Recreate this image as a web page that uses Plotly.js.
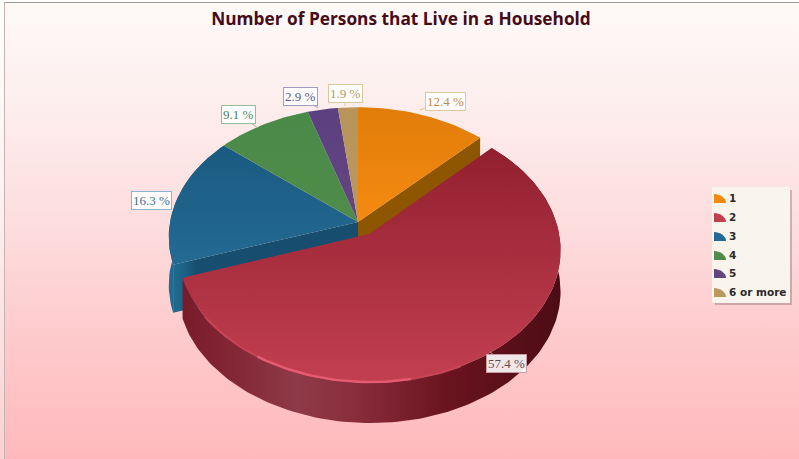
<!DOCTYPE html>
<html><head><meta charset="utf-8">
<script src="https://cdn.plot.ly/plotly-3.0.1.min.js"></script>
<style>html,body{margin:0;padding:0;height:459px;background:linear-gradient(#ffffff 0%,#fff2f2 40%,#fdd0d2 100%)}
#c{position:absolute;left:4px;top:2px;width:795px;height:457px;box-sizing:border-box;border-top:1px solid #9c9894;border-left:1px solid #c4b4b2;
background:linear-gradient(#fefaf8 0%,#fdeeee 22%,#fddcdd 50%,#fec9cb 75%,#ffb9bd 100%)}</style>
</head><body><div id="c"></div>
<script>
const categories=['1','2','3','4','5','6 or more'];
const percents=[12.4,57.4,16.3,9.1,2.9,1.9];
const labels=['12.4 %','57.4 %','16.3 %','9.1 %','2.9 %','1.9 %'];
const topColors=[['#e27d0a','#f48a10'],['#92202f','#c23f50'],['#1a5a80','#246a92'],['#4a8a48','#4f8c4a'],['#5c3f80','#64467f'],['#b8945a','#bc9860']];
const cutColors=['#8e5600','#5e1520','#174d6e','#2f5a2f','#3d2a58','#7a6038'];
const textColors=['#c08a48','#6a4a4e','#3f7292','#4f8450','#5f5590','#ad9a68'];
const borderColors=['#e2c79a','#c89aa2','#8cb4cc','#98bc98','#a09ac4','#d8c89c'];
const explode=[0,0.11,0,0,0,0];

// view of the tilted disc
const OX=5,OY=3;
const V={x:358,y:222,A:188,B:128,p:0.115,depth:41,backDepth:48};
function proj(u,w,drop){
  const d=1+V.p*w;
  return [V.x+V.A*u/d-OX, V.y-V.B*w/d+(drop||0)-OY];
}
const total=percents.reduce((a,b)=>a+b,0);
let acc=0;
const slices=percents.map((p,i)=>{
  const a0=acc/total*2*Math.PI; acc+=p; const a1=acc/total*2*Math.PI;
  const m=(a0+a1)/2;
  return {i,a0,a1,m,ou:explode[i]*Math.sin(m),ow:explode[i]*Math.cos(m)};
});
function rimPts(s,a0,a1,drop){
  const n=Math.max(4,Math.ceil((a1-a0)*40)),pts=[];
  for(let k=0;k<=n;k++){const a=a0+(a1-a0)*k/n;pts.push(proj(s.ou+Math.sin(a),s.ow+Math.cos(a),drop));}
  return pts;
}
function poly(pts,fill,name,extra){
  const xs=pts.map(q=>q[0]),ys=pts.map(q=>q[1]);
  xs.push(xs[0]);ys.push(ys[0]);
  return Object.assign({type:'scatter',mode:'lines',x:xs,y:ys,fill:'toself',fillcolor:fill,
    line:{width:0,color:fill},hoverinfo:'skip',showlegend:false,name:name||''},extra||{});
}
function topFace(s){
  const c=proj(s.ou,s.ow,0);
  const c1=topColors[s.i];
  return poly([c].concat(rimPts(s,s.a0,s.a1,0)),c1[1],categories[s.i],{
    fillgradient:{type:'vertical',colorscale:[[0,c1[1]],[1,c1[0]]]}});
}
function cut(s,a,depth,scale){
  const c=proj(s.ou,s.ow,0),c2=proj(s.ou,s.ow,depth);
  const e=proj(s.ou+Math.sin(a),s.ow+Math.cos(a),0),e2=proj(s.ou+Math.sin(a),s.ow+Math.cos(a),depth);
  const o=poly([c,e,e2,c2],cutColors[s.i]);
  if(scale)o.fillgradient={type:'horizontal',colorscale:scale};
  return o;
}
function side(s,a0,a1,depth,scale){
  const up=rimPts(s,a0,a1,0),dn=rimPts(s,a0,a1,depth).reverse();
  const o=poly(up.concat(dn),cutColors[s.i]);
  if(scale)o.fillgradient={type:'horizontal',colorscale:scale};
  return o;
}
const traces=[];
const blue=slices[2],orange=slices[0],red=slices[1];
traces.push(side(blue,blue.a0,blue.a0+0.9,V.backDepth,[[0,'#1f6c92'],[1,'#17597c']]));
traces.push(cut(blue,blue.a0,V.backDepth,[[0,'#1f6a90'],[0.06,'#1c6287'],[0.13,'#174d6e'],[1,'#174d6e']]));
traces.push(cut(orange,orange.a1,V.depth));
[0,2,3,4,5].forEach(i=>traces.push(topFace(slices[i])));
// pulled-out slice
traces.push(side(red,red.a0,red.a1,V.depth,[[0,'#7a1b2a'],[0.12,'#822534'],[0.3,'#8e3a48'],[0.45,'#8a2d3c'],[0.7,'#6a1420'],[1,'#4c0c14']]));
traces.push(topFace(red));
// bright lip along the front of the top face
[[0.86,1.3,'#c94458',2],[0.94,1.18,'#e65a72',2.5]].forEach(l=>{
  const lip=rimPts(red,Math.PI*l[0],Math.PI*l[1],0);
  traces.push({type:'scatter',mode:'lines',x:lip.map(q=>q[0]),y:lip.map(q=>q[1]),line:{width:l[3],color:l[2]},hoverinfo:'skip',showlegend:false});
});

// legend glyphs
const legendRow=[198,217,236,255,273,292];
categories.forEach((c,i)=>{
  const lx=714-OX,ly=legendRow[i]+5-OY,pts=[[lx,ly]];
  for(let k=0;k<=8;k++){const a=k/8*Math.PI/2;pts.push([lx+12*Math.sin(a),ly-9*Math.cos(a)]);}
  traces.push(poly(pts,topColors[i][1],c));
});

const labelPos=[[445,101],[506,363],[151,200],[238,114],[300,96],[345,93]];
const anchors=[[420,110],[490,352],[172,200],[258,128],[318,108],[345,106]];
const annotations=labels.map((t,i)=>({
  x:anchors[i][0]-OX,y:anchors[i][1]-OY,xref:'x',yref:'y',
  ax:labelPos[i][0]-OX,ay:labelPos[i][1]-OY,axref:'x',ayref:'y',
  text:t,showarrow:true,arrowhead:0,arrowwidth:1,arrowcolor:borderColors[i],
  font:{family:'Liberation Serif',size:13,color:textColors[i]},
  bgcolor:'rgba(255,255,255,0.9)',bordercolor:borderColors[i],borderwidth:1,borderpad:1
}));
categories.forEach((c,i)=>annotations.push({
  x:727-OX,y:legendRow[i]-OY,xref:'x',yref:'y',xanchor:'left',yanchor:'middle',showarrow:false,
  text:'<b>'+c+'</b>',font:{family:'DejaVu Sans',size:10.5,color:'#2a2a2a'}
}));
const layout={
  width:794,height:456,margin:{l:0,r:0,t:0,b:0},
  paper_bgcolor:'rgba(0,0,0,0)',plot_bgcolor:'rgba(0,0,0,0)',showlegend:false,
  title:{text:'<b>Number of Persons that Live in a Household</b>',x:(401-OX)/794,xanchor:'center',y:1-(19-OY)/456,yanchor:'middle',
    font:{family:'Open Sans',size:17.3,color:'#450c18'}},
  xaxis:{range:[0,794],visible:false,fixedrange:true},
  yaxis:{range:[456,0],visible:false,fixedrange:true},
  shapes:[
    {type:'rect',xref:'x',yref:'y',x0:715-OX,x1:792-OX,y0:190-OY,y1:305-OY,fillcolor:'rgba(120,90,90,0.35)',line:{width:0},layer:'below'},
    {type:'rect',xref:'x',yref:'y',x0:712-OX,x1:790-OX,y0:187-OY,y1:303-OY,fillcolor:'#faf5ec',line:{width:0},layer:'below'}
  ],
  annotations
};
Plotly.newPlot('c',traces,layout,{displayModeBar:false,staticPlot:true});
</script></body></html>
